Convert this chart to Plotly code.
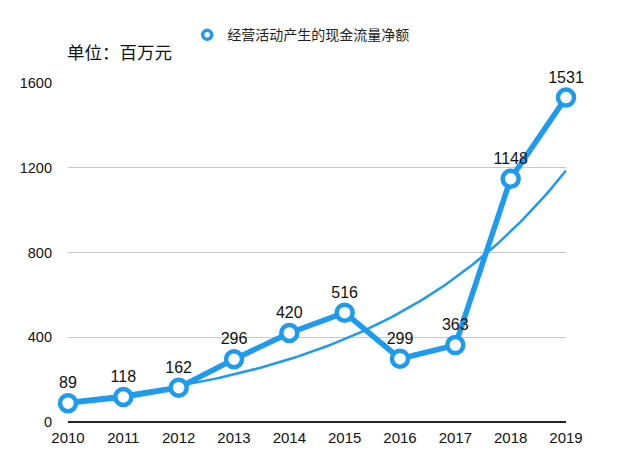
import numpy as np
import plotly.graph_objects as go

years = [2010, 2011, 2012, 2013, 2014, 2015, 2016, 2017, 2018, 2019]
cash_flow = [89, 118, 162, 296, 420, 516, 299, 363, 1148, 1531]
series_name = "经营活动产生的现金流量净额"
unit_text = "单位：百万元"
y_ticks = [0, 400, 800, 1200, 1600]

BLUE = "#1E9BEC"
FONT = "Liberation Sans, Helvetica, Arial, Noto Sans CJK SC, sans-serif"
CJK = "Noto Sans CJK SC, sans-serif"

# exponential trendline fitted from the data
xs = np.array(years, dtype=float)
b, a = np.polyfit(xs - xs[0], np.log(cash_flow), 1)
tx = np.linspace(xs[0], xs[-1], 120)
ty = np.exp(a + b * (tx - xs[0]))

fig = go.Figure()
fig.add_trace(go.Scatter(x=tx, y=ty, mode="lines", line=dict(color=BLUE, width=2.5),
                         showlegend=False, hoverinfo="skip", cliponaxis=False))
fig.add_trace(go.Scatter(
    x=years, y=cash_flow, mode="lines+markers+text",
    text=[str(v) for v in cash_flow], textposition="top center",
    textfont=dict(family=FONT, size=16, color="#111"),
    line=dict(color=BLUE, width=5.5),
    marker=dict(size=16, color="white", line=dict(color=BLUE, width=4.5)),
    showlegend=False, cliponaxis=False))
fig.add_trace(go.Scatter(x=[None], y=[None], mode="markers", name=series_name,
                         marker=dict(size=9, color="white", line=dict(color=BLUE, width=3.5))))

fig.update_layout(
    width=640, height=469,
    margin=dict(l=60, r=82, t=75, b=55),
    plot_bgcolor="white", paper_bgcolor="white",
    font=dict(family=FONT, color="#111"),
    legend=dict(orientation="h", x=0.28, y=0.976, xref="container", yref="container",
                yanchor="top", xanchor="left", font=dict(family=CJK, size=14, color="#222"),
                itemwidth=30, tracegroupgap=0),
    annotations=[dict(text=unit_text, x=-0.006, y=1.093, xref="paper", yref="paper",
                      xanchor="left", yanchor="middle", showarrow=False,
                      font=dict(family=CJK, size=17.5, color="#111"))],
)
fig.update_xaxes(range=[2010, 2019], tickvals=years, ticktext=[str(y) for y in years],
                 showgrid=False, zeroline=False, showline=False,
                 tickfont=dict(family=FONT, size=15, color="#111"), ticklabelstandoff=5)
fig.update_yaxes(range=[0, 1600], tickvals=y_ticks, showgrid=True, gridcolor="#c8c8c8",
                 gridwidth=1.2, zeroline=True, zerolinecolor="#222", zerolinewidth=1.5,
                 showline=False, tickfont=dict(family=FONT, size=14.5, color="#111"),
                 ticklabelstandoff=15)
fig.write_html("out.html")
